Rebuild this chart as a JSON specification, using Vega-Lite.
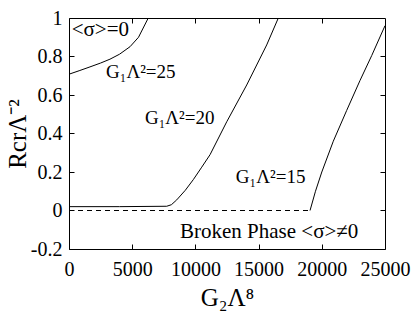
{
  "$schema": "https://vega.github.io/schema/vega-lite/v6.json",
  "width": 316,
  "height": 231,
  "autosize": {"type": "none"},
  "padding": {"left": 69, "top": 18, "right": 29, "bottom": 62},
  "background": "white",
  "config": {
    "view": {"stroke": "black", "strokeWidth": 1},
    "font": "Liberation Serif",
    "axis": {
      "domain": false,
      "grid": false,
      "tickColor": "black",
      "tickSize": -5,
      "labelColor": "black",
      "labelFont": "Liberation Serif",
      "labelFontSize": 20,
      "labelOverlap": false,
      "labelFlush": false,
      "titleFont": "Liberation Serif",
      "titleColor": "black",
      "titleFontWeight": "normal",
      "titleFontSize": 25
    }
  },
  "datasets": {
    "curves": [
      {"series": "25", "G": 0, "R": 0.708},
      {"series": "25", "G": 800, "R": 0.726},
      {"series": "25", "G": 1660, "R": 0.746},
      {"series": "25", "G": 2500, "R": 0.766},
      {"series": "25", "G": 3240, "R": 0.786},
      {"series": "25", "G": 4000, "R": 0.812},
      {"series": "25", "G": 4830, "R": 0.851},
      {"series": "25", "G": 5500, "R": 0.9},
      {"series": "25", "G": 6270, "R": 1.0},
      {"series": "20", "G": 0, "R": 0.02},
      {"series": "20", "G": 4000, "R": 0.02},
      {"series": "20", "G": 7730, "R": 0.022},
      {"series": "20", "G": 8100, "R": 0.03},
      {"series": "20", "G": 8520, "R": 0.055},
      {"series": "20", "G": 9200, "R": 0.105},
      {"series": "20", "G": 9830, "R": 0.16},
      {"series": "20", "G": 10500, "R": 0.225},
      {"series": "20", "G": 11160, "R": 0.29},
      {"series": "20", "G": 12480, "R": 0.461},
      {"series": "20", "G": 14060, "R": 0.652},
      {"series": "20", "G": 15640, "R": 0.86},
      {"series": "20", "G": 16560, "R": 1.0},
      {"series": "15", "G": 19070, "R": 0.0},
      {"series": "15", "G": 19500, "R": 0.1},
      {"series": "15", "G": 20000, "R": 0.2},
      {"series": "15", "G": 20910, "R": 0.36},
      {"series": "15", "G": 21970, "R": 0.52},
      {"series": "15", "G": 23020, "R": 0.675},
      {"series": "15", "G": 23950, "R": 0.805},
      {"series": "15", "G": 25000, "R": 0.96}
    ],
    "dashed": [
      {"G": 0, "R": 0},
      {"G": 19070, "R": 0}
    ],
    "labelsG": [
      {"G": 2930, "R": 0.69, "text": "G₁Λ²=25"},
      {"G": 6010, "R": 0.45, "text": "G₁Λ²=20"},
      {"G": 13200, "R": 0.145, "text": "G₁Λ²=15"}
    ],
    "labelsOther": [
      {"G": 210, "R": 0.906, "text": "<σ>=0"},
      {"G": 8780, "R": -0.143, "text": "Broken Phase <σ>≠0"}
    ]
  },
  "resolve": {"axis": {"x": "independent", "y": "independent"}},
  "layer": [
    {
      "data": {"name": "curves"},
      "mark": {"type": "line", "color": "black", "strokeWidth": 1},
      "encoding": {
        "x": {
          "field": "G", "type": "quantitative",
          "scale": {"domain": [0, 25000], "nice": false, "zero": false},
          "axis": {
            "orient": "bottom",
            "values": [0, 5000, 10000, 15000, 20000, 25000],
            "format": "d",
            "labelPadding": 15,
            "title": "G₂Λ⁸",
            "titlePadding": 6
          }
        },
        "y": {
          "field": "R", "type": "quantitative",
          "scale": {"domain": [-0.2, 1], "nice": false, "zero": false},
          "axis": {
            "orient": "left",
            "values": [-0.2, 0, 0.2, 0.4, 0.6, 0.8, 1],
            "labelExpr": "replace(format(datum.value, '~g'), '−', '-')",
            "labelPadding": 12,
            "title": "RcrΛ⁻²",
            "titlePadding": 0
          }
        },
        "detail": {"field": "series", "type": "nominal"}
      }
    },
    {
      "data": {"name": "dashed"},
      "mark": {"type": "line", "color": "black", "strokeWidth": 1, "strokeDash": [5, 4]},
      "encoding": {
        "x": {
          "field": "G", "type": "quantitative",
          "scale": {"domain": [0, 25000], "nice": false, "zero": false},
          "axis": {"orient": "top", "values": [5000, 10000, 15000, 20000], "labels": false, "title": null}
        },
        "y": {
          "field": "R", "type": "quantitative",
          "scale": {"domain": [-0.2, 1], "nice": false, "zero": false},
          "axis": {"orient": "right", "values": [0, 0.2, 0.4, 0.6, 0.8], "labels": false, "title": null}
        }
      }
    },
    {
      "data": {"name": "labelsG"},
      "mark": {"type": "text", "align": "left", "baseline": "alphabetic", "font": "Liberation Serif", "fontSize": 19, "color": "black"},
      "encoding": {
        "x": {"field": "G", "type": "quantitative", "axis": null},
        "y": {"field": "R", "type": "quantitative", "axis": null},
        "text": {"field": "text", "type": "nominal"}
      }
    },
    {
      "data": {"name": "labelsOther"},
      "mark": {"type": "text", "align": "left", "baseline": "alphabetic", "font": "Liberation Serif", "fontSize": 21, "color": "black"},
      "encoding": {
        "x": {"field": "G", "type": "quantitative", "axis": null},
        "y": {"field": "R", "type": "quantitative", "axis": null},
        "text": {"field": "text", "type": "nominal"}
      }
    }
  ]
}
